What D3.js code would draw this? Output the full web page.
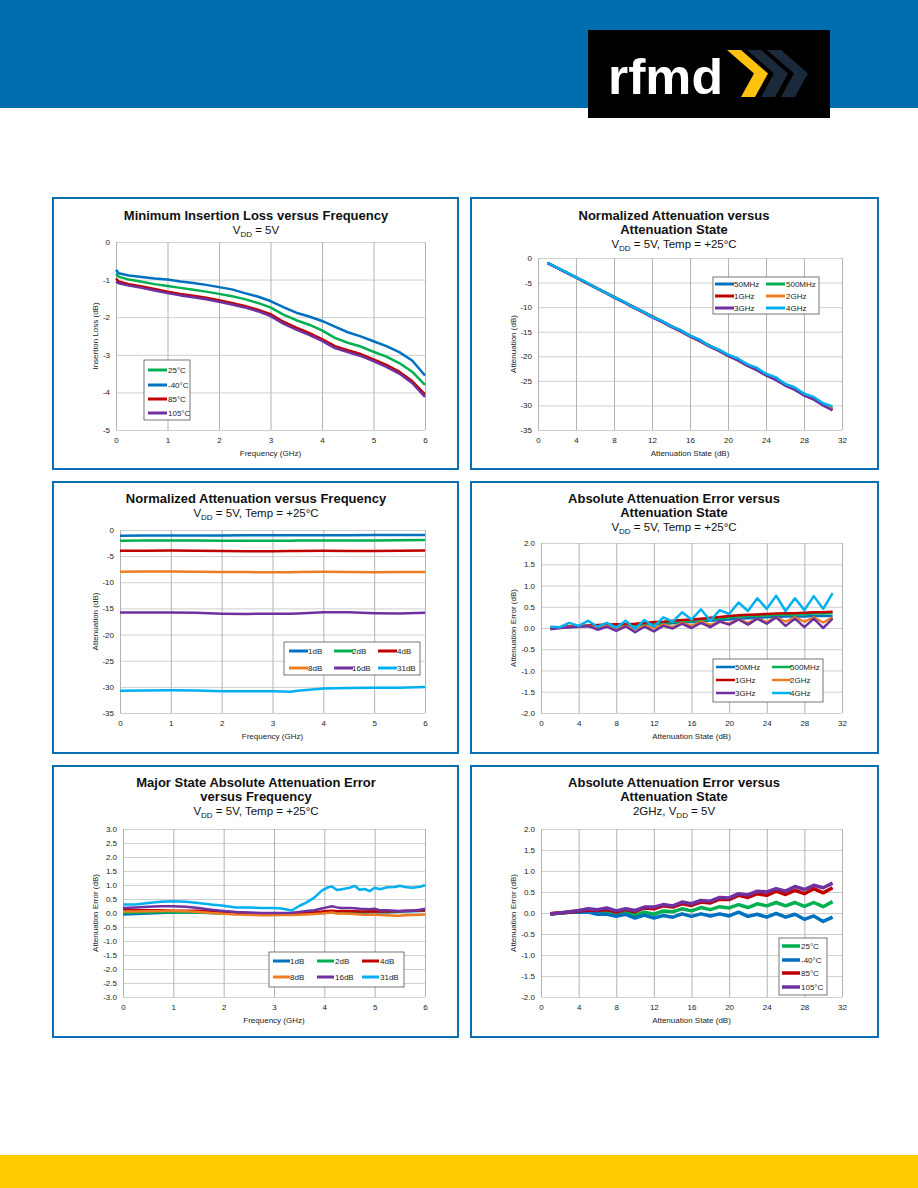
<!DOCTYPE html>
<html>
<head>
<meta charset="utf-8">
<script src="https://cdnjs.cloudflare.com/ajax/libs/d3/7.8.5/d3.min.js"></script>
<style>
body { margin: 0; background: #fff; }
</style>
</head>
<body>
<svg id="page" width="918" height="1188"></svg>
<script>
var FONT = '"Liberation Sans", Arial, Helvetica, sans-serif';

// ---- chart 1 : minimum insertion loss vs frequency
var il_freq = [0, 0.05, 0.25, 0.5, 0.75, 1, 1.25, 1.5, 1.75, 2, 2.25, 2.5, 2.75, 3, 3.25, 3.5, 3.75, 4, 4.25, 4.5, 4.75, 5, 5.25, 5.5, 5.75, 6];
var il_25C  = [-0.85, -0.92, -1.0, -1.06, -1.12, -1.17, -1.22, -1.27, -1.32, -1.38, -1.44, -1.52, -1.62, -1.74, -1.93, -2.08, -2.2, -2.35, -2.55, -2.68, -2.78, -2.92, -3.05, -3.22, -3.45, -3.8];
var il_m40C = [-0.74, -0.83, -0.89, -0.93, -0.97, -1.0, -1.05, -1.09, -1.14, -1.2, -1.26, -1.36, -1.45, -1.57, -1.73, -1.88, -1.98, -2.1, -2.25, -2.4, -2.51, -2.64, -2.77, -2.93, -3.15, -3.55];
var il_85C  = [-0.97, -1.05, -1.12, -1.18, -1.25, -1.32, -1.38, -1.43, -1.48, -1.55, -1.62, -1.7, -1.8, -1.92, -2.12, -2.28, -2.42, -2.58, -2.77, -2.88, -2.98, -3.12, -3.27, -3.45, -3.7, -4.05];
var il_105C = [-1.05, -1.1, -1.16, -1.22, -1.29, -1.36, -1.42, -1.47, -1.52, -1.59, -1.66, -1.74, -1.84, -1.97, -2.17, -2.33, -2.47, -2.63, -2.82, -2.93, -3.03, -3.17, -3.32, -3.5, -3.75, -4.12];

// ---- attenuation states (charts 2, 4, 6)
var att_state = [1, 2, 3, 4, 5, 6, 7, 8, 9, 10, 11, 12, 13, 14, 15, 16, 17, 18, 19, 20, 21, 22, 23, 24, 25, 26, 27, 28, 29, 30, 31];

// ---- chart 2 : normalized attenuation vs state
var na_50M  = [-1.0, -1.98, -2.97, -3.96, -4.95, -5.95, -6.94, -7.94, -8.93, -9.93, -10.91, -11.9, -12.89, -13.88, -14.86, -15.85, -16.83, -17.82, -18.8, -19.79, -20.77, -21.76, -22.75, -23.74, -24.73, -25.72, -26.72, -27.72, -28.71, -29.71, -30.7];
var na_500M = [-1.0, -1.98, -2.96, -3.95, -4.94, -5.94, -6.93, -7.92, -8.92, -9.91, -10.89, -11.88, -12.86, -13.85, -14.83, -15.82, -16.8, -17.78, -18.76, -19.74, -20.72, -21.71, -22.7, -23.69, -24.68, -25.68, -26.67, -27.66, -28.66, -29.66, -30.75];
var na_1G   = [-1.0, -1.98, -2.96, -3.95, -4.94, -5.93, -6.92, -7.91, -8.91, -9.9, -10.88, -11.86, -12.85, -13.83, -14.81, -15.8, -16.78, -17.76, -18.74, -19.72, -20.7, -21.69, -22.68, -23.67, -24.66, -25.65, -26.65, -27.64, -28.63, -29.63, -30.85];
var na_2G   = [-1.02, -2.0, -2.97, -3.97, -4.95, -6.0, -6.95, -8.02, -8.95, -10.03, -10.95, -12.0, -12.92, -13.98, -14.88, -15.95, -16.85, -17.93, -18.85, -19.9, -20.8, -21.88, -22.78, -23.86, -24.75, -25.85, -26.75, -27.85, -28.75, -29.87, -30.75];
var na_3G   = [-1.03, -2.0, -2.98, -3.97, -4.95, -6.04, -6.97, -8.07, -8.96, -10.1, -10.97, -12.08, -12.95, -14.01, -14.9, -16.0, -16.88, -17.98, -18.85, -19.92, -20.8, -21.92, -22.78, -23.9, -24.75, -25.95, -26.78, -27.98, -28.78, -30.0, -31.0];
var na_4G   = [-0.97, -1.98, -2.88, -3.95, -4.83, -5.97, -6.88, -7.99, -8.83, -10.02, -10.81, -11.97, -12.75, -13.85, -14.63, -15.8, -16.56, -17.83, -18.58, -19.67, -20.4, -21.6, -22.3, -23.55, -24.24, -25.6, -26.3, -27.58, -28.25, -29.55, -30.2];

// ---- chart 3 : normalized attenuation vs frequency
var nf_freq = [0, 0.5, 1, 1.5, 2, 2.5, 3, 3.35, 3.5, 4, 4.5, 5, 5.5, 6];
var nf_1dB  = [-1.1, -1.05, -1.05, -1.05, -1.05, -1.0, -1.0, -1.0, -1.0, -1.0, -1.0, -0.98, -0.98, -0.95];
var nf_2dB  = [-2.05, -2.0, -2.0, -2.0, -2.05, -2.05, -2.05, -2.05, -2.0, -2.0, -2.0, -2.0, -1.95, -1.9];
var nf_4dB  = [-3.95, -3.95, -3.9, -3.95, -4.0, -4.05, -4.05, -4.0, -4.0, -3.95, -4.0, -4.0, -3.95, -3.9];
var nf_8dB  = [-8.0, -7.95, -7.95, -8.0, -8.05, -8.05, -8.1, -8.1, -8.05, -8.0, -8.05, -8.1, -8.05, -8.05];
var nf_16dB = [-15.8, -15.8, -15.8, -15.85, -16.0, -16.05, -16.0, -16.0, -15.95, -15.75, -15.75, -15.9, -15.95, -15.85];
var nf_31dB = [-30.75, -30.7, -30.65, -30.7, -30.85, -30.85, -30.85, -30.95, -30.75, -30.3, -30.2, -30.15, -30.15, -30.05];

// ---- chart 4 : absolute attenuation error vs state
var ae_50M  = [0.0, 0.01, 0.02, 0.03, 0.04, 0.04, 0.05, 0.05, 0.06, 0.06, 0.08, 0.09, 0.1, 0.11, 0.13, 0.14, 0.16, 0.17, 0.19, 0.2, 0.22, 0.23, 0.24, 0.25, 0.26, 0.27, 0.27, 0.27, 0.28, 0.28, 0.28];
var ae_500M = [-0.01, 0.01, 0.03, 0.04, 0.05, 0.05, 0.06, 0.07, 0.07, 0.08, 0.1, 0.11, 0.13, 0.14, 0.16, 0.17, 0.19, 0.21, 0.23, 0.25, 0.27, 0.28, 0.29, 0.3, 0.31, 0.32, 0.32, 0.33, 0.34, 0.34, 0.35];
var ae_1G   = [0.0, 0.02, 0.04, 0.05, 0.06, 0.07, 0.08, 0.09, 0.09, 0.1, 0.12, 0.14, 0.15, 0.17, 0.19, 0.2, 0.22, 0.24, 0.26, 0.28, 0.3, 0.31, 0.32, 0.33, 0.34, 0.35, 0.35, 0.36, 0.37, 0.37, 0.38];
var ae_2G   = [-0.02, 0.0, 0.03, 0.03, 0.05, 0.0, 0.05, -0.02, 0.05, -0.03, 0.05, 0.0, 0.08, 0.02, 0.12, 0.05, 0.15, 0.07, 0.15, 0.1, 0.2, 0.12, 0.22, 0.14, 0.25, 0.15, 0.25, 0.15, 0.25, 0.13, 0.25];
var ae_3G   = [-0.03, 0.0, 0.02, 0.03, 0.05, -0.04, 0.03, -0.07, 0.04, -0.1, 0.03, -0.08, 0.05, -0.01, 0.1, 0.0, 0.12, 0.02, 0.15, 0.08, 0.2, 0.08, 0.22, 0.1, 0.25, 0.05, 0.22, 0.02, 0.22, 0.0, 0.22];
var ae_4G   = [0.03, 0.02, 0.12, 0.05, 0.17, 0.03, 0.12, 0.01, 0.17, -0.02, 0.19, 0.03, 0.25, 0.15, 0.37, 0.2, 0.44, 0.17, 0.42, 0.33, 0.6, 0.4, 0.7, 0.45, 0.76, 0.4, 0.7, 0.42, 0.75, 0.45, 0.82];

// ---- chart 5 : major state absolute error vs frequency
var me_freq = [0, 0.25, 0.5, 0.75, 1, 1.25, 1.5, 1.75, 2, 2.25, 2.5, 2.75, 3, 3.15, 3.35, 3.5, 3.65, 3.8, 3.95, 4.05, 4.15, 4.25, 4.35, 4.5, 4.6, 4.7, 4.8, 4.9, 5, 5.1, 5.25, 5.4, 5.5, 5.6, 5.75, 5.9, 6];
var me_1dB  = [-0.05, -0.04, -0.02, 0.0, 0.02, 0.02, 0.01, 0.0, -0.02, -0.03, -0.03, -0.03, -0.03, -0.03, -0.03, -0.02, -0.01, 0.0, 0.0, 0.01, 0.02, 0.01, 0.01, 0.01, 0.02, 0.02, 0.02, 0.03, 0.03, 0.03, 0.03, 0.04, 0.05, 0.05, 0.06, 0.07, 0.08];
var me_2dB  = [0.0, 0.01, 0.02, 0.03, 0.03, 0.03, 0.02, 0.0, -0.02, -0.03, -0.03, -0.03, -0.03, -0.03, -0.02, -0.01, 0.0, 0.01, 0.02, 0.03, 0.04, 0.03, 0.03, 0.03, 0.04, 0.04, 0.04, 0.05, 0.05, 0.05, 0.05, 0.06, 0.06, 0.07, 0.08, 0.09, 0.1];
var me_4dB  = [0.1, 0.1, 0.1, 0.1, 0.08, 0.08, 0.08, 0.05, 0.02, 0.0, -0.01, -0.02, -0.02, -0.02, -0.01, 0.0, 0.02, 0.03, 0.05, 0.07, 0.08, 0.06, 0.07, 0.06, 0.06, 0.05, 0.05, 0.05, 0.06, 0.05, 0.05, 0.06, 0.06, 0.07, 0.08, 0.09, 0.1];
var me_8dB  = [0.05, 0.05, 0.06, 0.07, 0.07, 0.06, 0.04, 0.0, -0.03, -0.05, -0.06, -0.08, -0.08, -0.07, -0.07, -0.06, -0.05, -0.04, -0.02, 0.0, 0.02, -0.02, -0.02, -0.03, -0.04, -0.05, -0.06, -0.06, -0.05, -0.07, -0.08, -0.1, -0.1, -0.08, -0.07, -0.06, -0.05];
var me_16dB = [0.18, 0.2, 0.22, 0.24, 0.24, 0.22, 0.18, 0.12, 0.07, 0.04, 0.02, 0.0, 0.0, 0.0, 0.01, 0.04, 0.07, 0.1, 0.16, 0.2, 0.24, 0.2, 0.18, 0.18, 0.17, 0.15, 0.14, 0.13, 0.15, 0.1, 0.1, 0.08, 0.07, 0.08, 0.08, 0.12, 0.15];
var me_31dB = [0.3, 0.3, 0.36, 0.4, 0.42, 0.4, 0.36, 0.3, 0.26, 0.2, 0.2, 0.18, 0.18, 0.16, 0.09, 0.25, 0.38, 0.55, 0.8, 0.9, 0.95, 0.82, 0.85, 0.9, 0.97, 0.83, 0.86, 0.78, 0.9, 0.85, 0.92, 0.93, 0.97, 0.93, 0.9, 0.94, 0.99];

// ---- chart 6 : absolute attenuation error vs state at 2GHz, by temperature
var te_25C  = [-0.02, 0.0, 0.02, 0.04, 0.05, 0.03, 0.04, -0.02, 0.03, -0.05, 0.02, -0.03, 0.05, 0.03, 0.1, 0.05, 0.13, 0.08, 0.15, 0.12, 0.2, 0.13, 0.22, 0.17, 0.25, 0.17, 0.25, 0.16, 0.25, 0.15, 0.27];
var te_m40C = [-0.03, 0.0, 0.02, 0.02, 0.02, -0.03, -0.03, -0.08, -0.03, -0.12, -0.05, -0.12, -0.06, -0.1, -0.02, -0.08, -0.02, -0.07, -0.02, -0.07, 0.02, -0.08, -0.03, -0.1, -0.01, -0.1, -0.03, -0.15, -0.07, -0.2, -0.1];
var te_85C  = [-0.02, 0.0, 0.02, 0.05, 0.07, 0.06, 0.08, 0.02, 0.08, 0.03, 0.12, 0.1, 0.17, 0.14, 0.22, 0.18, 0.26, 0.24, 0.33, 0.32, 0.42, 0.37, 0.46, 0.42, 0.52, 0.44, 0.54, 0.46, 0.58, 0.48, 0.6];
var te_105C = [-0.02, 0.0, 0.03, 0.06, 0.1, 0.08, 0.12, 0.05, 0.1, 0.06, 0.14, 0.14, 0.2, 0.17, 0.26, 0.22, 0.3, 0.28, 0.37, 0.36, 0.46, 0.43, 0.52, 0.5, 0.58, 0.52, 0.63, 0.56, 0.66, 0.6, 0.71];

// ---- tick labels
var freq_ticks  = [0, 1, 2, 3, 4, 5, 6];
var state_ticks = [0, 4, 8, 12, 16, 20, 24, 28, 32];
var il_ticks    = [0, -1, -2, -3, -4, -5];
var att_ticks   = [0, -5, -10, -15, -20, -25, -30, -35];
var err2_ticks  = [2, 1.5, 1, 0.5, 0, -0.5, -1, -1.5, -2];
var err3_ticks  = [3, 2.5, 2, 1.5, 1, 0.5, 0, -0.5, -1, -1.5, -2, -2.5, -3];

// colours
var c_blue = '#0070c0', c_green = '#00b050', c_red = '#c00000',
    c_orange = '#ed7d22', c_purple = '#7030a0', c_cyan = '#00b0f0';

var svg = d3.select('#page');

function hyphen(fmt) {
    return function(d) { return d3.format(fmt)(d).replace('\u2212', '-'); };
}

function vdd(before, after) {
    // subtitle pieces, DD is a subscript
    return [{t: before + 'V'}, {t: 'DD', sub: true}, {t: after}];
}

function drawHeader() {
    svg.append('rect').attr('x', 0).attr('y', 0).attr('width', 918).attr('height', 108).attr('fill', '#006eae');
    svg.append('rect').attr('x', 588).attr('y', 30).attr('width', 242).attr('height', 88).attr('fill', '#000');
    svg.append('text')
	.attr('x', 608).attr('y', 94)
	.attr('fill', '#fff')
	.attr('font-family', FONT)
	.attr('font-size', 50)
	.attr('font-weight', 'bold')
	.attr('textLength', 115)
	.attr('lengthAdjust', 'spacingAndGlyphs')
	.text('rfmd');
    var chev = [[0, 0], [14, 0], [41, 23.5], [28, 47], [14, 47], [27, 23.5]];
    [['#1b2a3a', 40], ['#1b2a3a', 20], ['#ffc20e', 0]].forEach(function(c) {
	svg.append('polygon')
	    .attr('points', chev.map(function(p) { return (727 + c[1] + p[0]) + ',' + (50 + p[1]); }).join(' '))
	    .attr('fill', c[0]);
    });
    svg.append('rect').attr('x', 0).attr('y', 1155).attr('width', 918).attr('height', 33).attr('fill', '#ffcc00');
}

function drawChart(c) {
    var g = svg.append('g').attr('font-family', FONT);
    var p = c.plot; // [left, right, top, bottom]

    g.append('rect')
	.attr('x', c.panel[0]).attr('y', c.panel[1])
	.attr('width', c.panel[2]).attr('height', c.panel[3])
	.attr('fill', '#fff').attr('stroke', '#0a6fb0').attr('stroke-width', 2);

    var x = d3.scaleLinear().domain(c.xDomain).range([p[0], p[1]]);
    var y = d3.scaleLinear().domain(c.yDomain).range([p[3], p[2]]);

    // horizontal grid first, vertical grid (a bit darker) on top
    var ya = g.append('g')
	.attr('transform', 'translate(' + p[0] + ',0)')
	.call(d3.axisLeft(y).tickValues(c.yTicks).tickSize(-(p[1] - p[0])).tickPadding(6).tickFormat(hyphen(c.yFmt)));
    var xa = g.append('g')
	.attr('transform', 'translate(0,' + p[3] + ')')
	.call(d3.axisBottom(x).tickValues(c.xTicks).tickSize(-(p[3] - p[2])).tickPadding(7).tickFormat(hyphen('d')));
    xa.selectAll('line').attr('stroke', '#b3b3b3');
    ya.selectAll('line').attr('stroke', '#cfcfcf');
    [xa, ya].forEach(function(a) {
	a.select('.domain').remove();
	a.selectAll('text').attr('fill', '#222').attr('font-size', 8).attr('font-family', FONT);
    });

    // titles
    c.title.forEach(function(t, i) {
	g.append('text')
	    .attr('x', c.cx).attr('y', c.titleY[i])
	    .attr('text-anchor', 'middle')
	    .attr('font-size', 13).attr('font-weight', 'bold').attr('fill', '#111')
	    .text(t);
    });
    var st = g.append('text')
	.attr('x', c.cx).attr('y', c.subY)
	.attr('text-anchor', 'middle')
	.attr('font-size', 11.5).attr('fill', '#111');
    var shifted = false;
    c.sub.forEach(function(part) {
	var ts = st.append('tspan').text(part.t);
	if (part.sub) {
	    ts.attr('font-size', 8).attr('dy', 3);
	    shifted = true;
	} else if (shifted) {
	    ts.attr('dy', -3);
	    shifted = false;
	}
    });

    // axis titles
    g.append('text')
	.attr('x', (p[0] + p[1]) / 2).attr('y', p[3] + 26)
	.attr('text-anchor', 'middle').attr('font-size', 8).attr('fill', '#222')
	.text(c.xLabel);
    g.append('text')
	.attr('transform', 'translate(' + c.yLabelX + ',' + ((p[2] + p[3]) / 2) + ') rotate(-90)')
	.attr('dy', '0.35em')
	.attr('text-anchor', 'middle').attr('font-size', 8).attr('fill', '#222')
	.text(c.yLabel);

    // series
    var line = d3.line()
	.x(function(d) { return x(d[0]); })
	.y(function(d) { return y(d[1]); });
    c.series.forEach(function(s) {
	var pts = s.xs.map(function(v, i) { return [v, s.ys[i]]; });
	g.append('path')
	    .datum(pts)
	    .attr('d', line)
	    .attr('fill', 'none')
	    .attr('stroke', s.color)
	    .attr('stroke-width', c.lw)
	    .attr('stroke-linejoin', 'round');
    });

    // legend
    var L = c.legend;
    g.append('rect')
	.attr('x', L.box[0]).attr('y', L.box[1])
	.attr('width', L.box[2]).attr('height', L.box[3])
	.attr('fill', '#fff').attr('stroke', '#555').attr('stroke-width', 0.8);
    c.series.forEach(function(s, i) {
	var r = Math.floor(i / L.ncol), col = i % L.ncol;
	g.append('line')
	    .attr('x1', L.sx[col]).attr('x2', L.sx[col] + L.len)
	    .attr('y1', L.rows[r]).attr('y2', L.rows[r])
	    .attr('stroke', s.color).attr('stroke-width', L.lw);
	g.append('text')
	    .attr('x', L.tx[col]).attr('y', L.rows[r])
	    .attr('dy', '0.35em')
	    .attr('font-size', 8).attr('fill', '#222')
	    .text(s.name);
    });
}

drawHeader();

drawChart({
    panel: [53, 198, 405, 271], cx: 256, plot: [116, 425, 242, 430],
    xDomain: [0, 6], xTicks: freq_ticks, yDomain: [-5, 0], yTicks: il_ticks, yFmt: 'd',
    title: ['Minimum Insertion Loss versus Frequency'], titleY: [220],
    sub: vdd('', ' = 5V'), subY: 234,
    xLabel: 'Frequency (GHz)', yLabel: 'Insertion Loss (dB)', yLabelX: 95, lw: 2.5,
    series: [
	{name: '25°C', color: c_green, xs: il_freq, ys: il_25C},
	{name: '-40°C', color: c_blue, xs: il_freq, ys: il_m40C},
	{name: '85°C', color: c_red, xs: il_freq, ys: il_85C},
	{name: '105°C', color: c_purple, xs: il_freq, ys: il_105C}
    ],
    legend: {box: [144, 360, 46, 60], ncol: 1, rows: [370, 385, 399, 413], sx: [148], tx: [168], len: 19, lw: 3}
});

drawChart({
    panel: [471, 198, 407, 271], cx: 674, plot: [538, 842, 258, 430],
    xDomain: [0, 32], xTicks: state_ticks, yDomain: [-35, 0], yTicks: att_ticks, yFmt: 'd',
    title: ['Normalized Attenuation versus', 'Attenuation State'], titleY: [220, 234],
    sub: vdd('', ' = 5V, Temp = +25°C'), subY: 248,
    xLabel: 'Attenuation State (dB)', yLabel: 'Attenuation (dB)', yLabelX: 513, lw: 2.5,
    series: [
	{name: '50MHz', color: c_blue, xs: att_state, ys: na_50M},
	{name: '500MHz', color: c_green, xs: att_state, ys: na_500M},
	{name: '1GHz', color: c_red, xs: att_state, ys: na_1G},
	{name: '2GHz', color: c_orange, xs: att_state, ys: na_2G},
	{name: '3GHz', color: c_purple, xs: att_state, ys: na_3G},
	{name: '4GHz', color: c_cyan, xs: att_state, ys: na_4G}
    ],
    legend: {box: [713, 277, 106, 37], ncol: 2, rows: [284, 296, 308], sx: [715, 766], tx: [734, 786], len: 19, lw: 3}
});

drawChart({
    panel: [53, 482, 405, 271], cx: 256, plot: [120, 425, 530, 713],
    xDomain: [0, 6], xTicks: freq_ticks, yDomain: [-35, 0], yTicks: att_ticks, yFmt: 'd',
    title: ['Normalized Attenuation versus Frequency'], titleY: [503],
    sub: vdd('', ' = 5V, Temp = +25°C'), subY: 517,
    xLabel: 'Frequency (GHz)', yLabel: 'Attenuation (dB)', yLabelX: 95, lw: 2.5,
    series: [
	{name: '1dB', color: c_blue, xs: nf_freq, ys: nf_1dB},
	{name: '2dB', color: c_green, xs: nf_freq, ys: nf_2dB},
	{name: '4dB', color: c_red, xs: nf_freq, ys: nf_4dB},
	{name: '8dB', color: c_orange, xs: nf_freq, ys: nf_8dB},
	{name: '16dB', color: c_purple, xs: nf_freq, ys: nf_16dB},
	{name: '31dB', color: c_cyan, xs: nf_freq, ys: nf_31dB}
    ],
    legend: {box: [284, 642, 136, 33], ncol: 3, rows: [651, 668], sx: [289, 334, 378], tx: [308, 352, 397], len: 19, lw: 3}
});

drawChart({
    panel: [471, 482, 407, 271], cx: 674, plot: [541, 842, 543, 713],
    xDomain: [0, 32], xTicks: state_ticks, yDomain: [-2, 2], yTicks: err2_ticks, yFmt: '.1f',
    title: ['Absolute Attenuation Error versus', 'Attenuation State'], titleY: [503, 517],
    sub: vdd('', ' = 5V, Temp = +25°C'), subY: 531,
    xLabel: 'Attenuation State (dB)', yLabel: 'Attenuation Error (dB)', yLabelX: 513, lw: 2.5,
    series: [
	{name: '50MHz', color: c_blue, xs: att_state, ys: ae_50M},
	{name: '500MHz', color: c_green, xs: att_state, ys: ae_500M},
	{name: '1GHz', color: c_red, xs: att_state, ys: ae_1G},
	{name: '2GHz', color: c_orange, xs: att_state, ys: ae_2G},
	{name: '3GHz', color: c_purple, xs: att_state, ys: ae_3G},
	{name: '4GHz', color: c_cyan, xs: att_state, ys: ae_4G}
    ],
    legend: {box: [713, 659, 110, 43], ncol: 2, rows: [667, 680, 693], sx: [716, 772], tx: [735, 790], len: 19, lw: 2.5}
});

drawChart({
    panel: [53, 766, 405, 271], cx: 256, plot: [123, 425, 829, 997],
    xDomain: [0, 6], xTicks: freq_ticks, yDomain: [-3, 3], yTicks: err3_ticks, yFmt: '.1f',
    title: ['Major State Absolute Attenuation Error', 'versus Frequency'], titleY: [787, 801],
    sub: vdd('', ' = 5V, Temp = +25°C'), subY: 815,
    xLabel: 'Frequency (GHz)', yLabel: 'Attenuation Error (dB)', yLabelX: 95, lw: 2.5,
    series: [
	{name: '1dB', color: c_blue, xs: me_freq, ys: me_1dB},
	{name: '2dB', color: c_green, xs: me_freq, ys: me_2dB},
	{name: '4dB', color: c_red, xs: me_freq, ys: me_4dB},
	{name: '8dB', color: c_orange, xs: me_freq, ys: me_8dB},
	{name: '16dB', color: c_purple, xs: me_freq, ys: me_16dB},
	{name: '31dB', color: c_cyan, xs: me_freq, ys: me_31dB}
    ],
    legend: {box: [269, 952, 135, 35], ncol: 3, rows: [961, 977], sx: [273, 317, 362], tx: [290, 335, 380], len: 17, lw: 3}
});

drawChart({
    panel: [471, 766, 407, 271], cx: 674, plot: [541, 842, 829, 997],
    xDomain: [0, 32], xTicks: state_ticks, yDomain: [-2, 2], yTicks: err2_ticks, yFmt: '.1f',
    title: ['Absolute Attenuation Error versus', 'Attenuation State'], titleY: [787, 801],
    sub: vdd('2GHz, ', ' = 5V'), subY: 815,
    xLabel: 'Attenuation State (dB)', yLabel: 'Attenuation Error (dB)', yLabelX: 513, lw: 3.5,
    series: [
	{name: '25°C', color: c_green, xs: att_state, ys: te_25C},
	{name: '-40°C', color: c_blue, xs: att_state, ys: te_m40C},
	{name: '85°C', color: c_red, xs: att_state, ys: te_85C},
	{name: '105°C', color: c_purple, xs: att_state, ys: te_105C}
    ],
    legend: {box: [779, 938, 48, 57], ncol: 1, rows: [946, 960, 973, 987], sx: [782], tx: [801], len: 18, lw: 3.5}
});
</script>
</body>
</html>
